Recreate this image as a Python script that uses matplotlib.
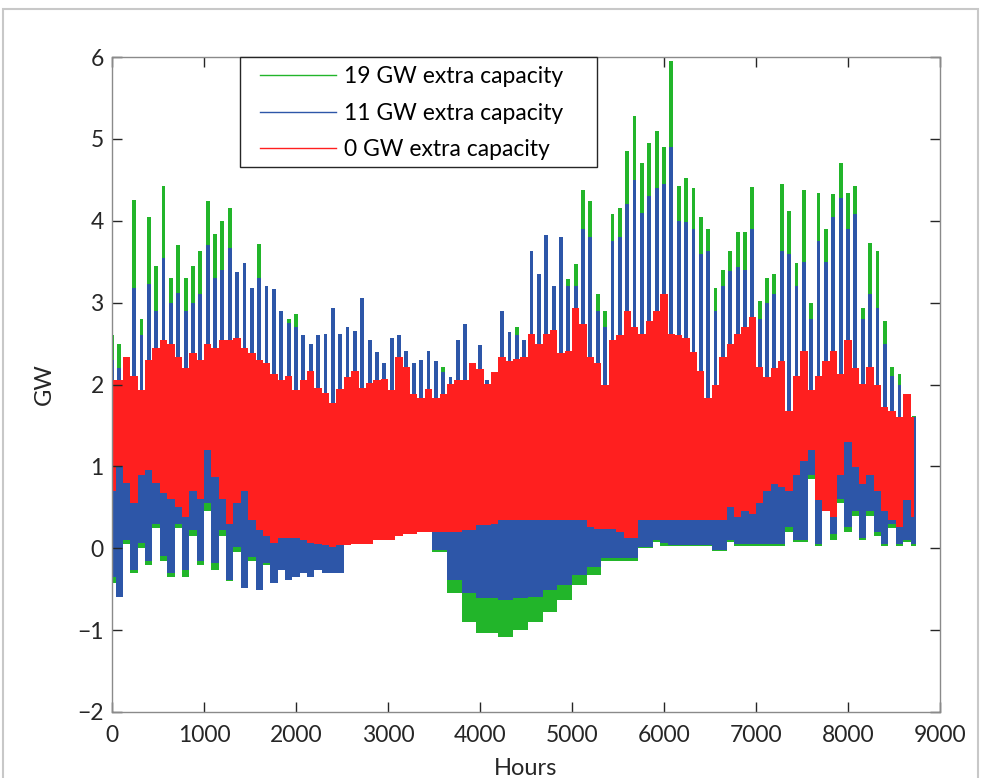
import numpy as np
import matplotlib
matplotlib.use('Agg')
import matplotlib.pyplot as plt
from matplotlib.lines import Line2D
from matplotlib.patches import Rectangle

plt.rcParams['font.family'] = ['Lato', 'DejaVu Sans']

# one peak and one trough for every 80-hour column
step_hours = 80
n_cols = 110

green_peak = [2.6, 2.5, 2.3, 4.25, 2.8, 4.05, 3.45, 4.43, 3.3, 3.7,
              3.3, 3.45, 3.63, 4.24, 3.84, 4.0, 4.16, 3.37, 3.49, 3.18,
              3.72, 3.2, 3.17, 2.9, 2.8, 2.86, 2.6, 2.5, 2.6, 2.62,
              2.94, 2.62, 2.7, 2.65, 3.06, 2.54, 2.4, 2.26, 2.57, 2.6,
              2.41, 2.26, 2.3, 2.41, 2.29, 2.21, 2.09, 2.54, 2.74, 2.26,
              2.48, 2.05, 1.96, 2.9, 2.64, 2.7, 2.54, 3.63, 3.35, 3.82,
              3.2, 3.8, 3.29, 3.47, 4.37, 4.24, 3.1, 2.9, 4.08, 4.15,
              4.85, 5.28, 4.7, 4.95, 5.1, 4.9, 5.95, 4.43, 4.52, 4.4,
              4.04, 3.9, 3.18, 3.4, 3.63, 3.86, 3.86, 4.41, 3.02, 3.3,
              3.35, 4.45, 4.12, 3.49, 4.37, 2.99, 4.34, 3.9, 4.33, 4.71,
              4.34, 4.43, 2.94, 3.73, 3.63, 2.78, 2.21, 2.13, 1.87, 1.62]
green_trough = [-0.43, -0.6, 0.05, -0.3, 0.0, -0.2, 0.25, -0.15, -0.35, 0.25,
                -0.35, 0.15, -0.2, 0.45, -0.27, 0.15, -0.4, -0.05, -0.48, -0.15,
                -0.5, -0.2, -0.43, -0.27, -0.39, -0.35, -0.3, -0.35, -0.27, -0.3,
                -0.3, -0.3, 0.06, 0.06, 0.06, 0.06, 0.1, 0.1, 0.12, 0.15,
                0.18, 0.2, 0.2, 0.2, -0.05, -0.05, -0.55, -0.55, -0.9, -0.9,
                -1.04, -1.04, -1.04, -1.08, -1.08, -1.0, -1.0, -0.9, -0.9, -0.78,
                -0.78, -0.63, -0.63, -0.45, -0.45, -0.33, -0.33, -0.15, -0.15, -0.15,
                -0.15, -0.15, 0.0, 0.0, 0.08, 0.03, 0.03, 0.03, 0.03, 0.03,
                0.03, 0.03, -0.03, -0.03, 0.08, 0.03, 0.03, 0.03, 0.03, 0.03,
                0.03, 0.03, 0.2, 0.08, 0.08, 0.85, 0.03, 0.5, 0.1, 0.55,
                0.2, 0.4, 0.1, 0.4, 0.15, 0.03, 0.25, 0.03, 0.08, 0.03]

blue_peak = [2.3, 2.2, 2.3, 3.18, 2.6, 3.23, 2.9, 3.54, 3.0, 3.12,
             2.9, 3.0, 3.1, 3.7, 3.3, 3.4, 3.67, 3.37, 3.49, 3.18,
             3.3, 3.2, 3.17, 2.9, 2.75, 2.7, 2.6, 2.5, 2.6, 2.62,
             2.94, 2.62, 2.7, 2.65, 3.06, 2.54, 2.4, 2.26, 2.57, 2.6,
             2.41, 2.26, 2.3, 2.41, 2.29, 2.15, 2.09, 2.54, 2.74, 2.26,
             2.48, 2.05, 1.96, 2.9, 2.64, 2.6, 2.54, 3.63, 3.35, 3.82,
             3.2, 3.8, 3.2, 3.2, 3.9, 3.8, 2.9, 2.7, 3.75, 3.8,
             4.2, 4.5, 4.1, 4.3, 4.4, 4.45, 4.9, 4.0, 3.98, 3.9,
             3.6, 3.63, 2.9, 3.2, 3.39, 3.43, 3.4, 3.9, 2.8, 3.0,
             3.1, 3.63, 3.6, 3.2, 3.5, 2.8, 3.75, 3.5, 4.04, 4.28,
             3.9, 4.08, 2.8, 3.1, 2.94, 2.5, 2.1, 2.0, 1.85, 1.6]
blue_trough = [-0.35, -0.6, 0.1, -0.27, 0.06, -0.15, 0.3, -0.1, -0.3, 0.3,
               -0.27, 0.22, -0.15, 0.55, -0.18, 0.22, -0.39, 0.01, -0.48, -0.11,
               -0.51, -0.18, -0.43, -0.27, -0.39, -0.35, -0.3, -0.35, -0.27, -0.3,
               -0.3, -0.3, 0.06, 0.06, 0.06, 0.06, 0.1, 0.1, 0.12, 0.15,
               0.18, 0.2, 0.2, 0.2, -0.02, -0.02, -0.39, -0.39, -0.55, -0.55,
               -0.61, -0.61, -0.61, -0.63, -0.63, -0.61, -0.61, -0.59, -0.59, -0.51,
               -0.51, -0.45, -0.45, -0.33, -0.33, -0.23, -0.23, -0.12, -0.12, -0.12,
               -0.12, -0.12, 0.01, 0.01, 0.1, 0.06, 0.04, 0.04, 0.04, 0.04,
               0.04, 0.04, -0.02, -0.02, 0.1, 0.05, 0.05, 0.05, 0.05, 0.05,
               0.05, 0.05, 0.26, 0.1, 0.1, 0.9, 0.05, 0.6, 0.18, 0.6,
               0.26, 0.46, 0.13, 0.46, 0.2, 0.05, 0.3, 0.05, 0.1, 0.05]

red_peak = [2.05, 2.05, 2.33, 2.1, 1.93, 2.3, 2.45, 2.54, 2.5, 2.33,
            2.2, 2.38, 2.3, 2.5, 2.45, 2.54, 2.54, 2.57, 2.45, 2.38,
            2.3, 2.26, 2.13, 2.05, 2.1, 1.93, 2.05, 2.17, 1.96, 1.9,
            1.77, 1.95, 2.09, 2.17, 1.96, 2.02, 2.05, 2.07, 1.93, 2.33,
            2.21, 1.89, 1.84, 1.95, 1.84, 1.89, 2.01, 2.05, 2.05, 2.26,
            2.19, 2.01, 2.15, 2.33, 2.29, 2.31, 2.33, 2.62, 2.5, 2.62,
            2.66, 2.38, 2.41, 2.94, 2.74, 2.33, 2.26, 2.0, 2.54, 2.6,
            2.9, 2.7, 2.62, 2.78, 2.9, 3.1, 2.62, 2.6, 2.57, 2.4,
            2.17, 1.84, 2.0, 2.33, 2.5, 2.62, 2.7, 2.82, 2.21, 2.09,
            2.2, 2.29, 1.68, 2.1, 2.41, 1.93, 2.1, 2.29, 2.41, 2.13,
            2.54, 2.2, 2.01, 2.21, 2.0, 1.72, 1.68, 1.6, 1.89, 1.6]
red_trough = [0.7, 1.0, 0.8, 0.55, 0.9, 0.95, 0.8, 0.67, 0.6, 0.5,
              0.38, 0.7, 0.6, 1.2, 0.87, 0.6, 0.3, 0.55, 0.7, 0.35,
              0.22, 0.15, 0.06, 0.13, 0.13, 0.13, 0.1, 0.06, 0.05, 0.04,
              0.02, 0.04, 0.04, 0.05, 0.05, 0.05, 0.1, 0.1, 0.1, 0.15,
              0.18, 0.18, 0.2, 0.2, 0.2, 0.2, 0.2, 0.2, 0.22, 0.22,
              0.28, 0.28, 0.3, 0.34, 0.34, 0.34, 0.34, 0.34, 0.34, 0.34,
              0.34, 0.34, 0.34, 0.34, 0.34, 0.26, 0.24, 0.24, 0.24, 0.2,
              0.13, 0.13, 0.34, 0.34, 0.34, 0.34, 0.34, 0.34, 0.34, 0.34,
              0.34, 0.34, 0.34, 0.34, 0.5, 0.38, 0.45, 0.42, 0.55, 0.7,
              0.79, 0.75, 0.7, 0.9, 1.07, 1.2, 0.59, 0.45, 0.38, 0.9,
              1.3, 0.99, 0.79, 0.9, 0.7, 0.46, 0.35, 0.26, 0.59, 0.38]

labels = ['19 GW extra capacity', '11 GW extra capacity', '0 GW extra capacity']
colours = ['#22b52a', '#2d56a8', '#ff1f1f']

hours = np.arange(n_cols) * step_hours

fig = plt.figure(figsize=(9.81, 7.78), dpi=100)
ax = fig.add_axes([112 / 981, 1 - 712 / 778, 828 / 981, 655 / 778])

# green and blue: thin spikes from trough to peak, solid where they run below the red band
for pk, tr, c in [(green_peak, green_trough, colours[0]),
                  (blue_peak, blue_trough, colours[1])]:
    pk = np.array(pk)
    tr = np.array(tr)
    ax.bar(hours, pk - tr, bottom=tr, width=42, color=c, linewidth=0)
    ax.fill_between(hours, tr, red_trough, step='mid', color=c, linewidth=0)

# red: solid band between trough and peak
ax.fill_between(hours, red_trough, red_peak, step='mid', color=colours[2], linewidth=0)

ax.set_xlim(0, 9000)
ax.set_ylim(-2, 6)
ax.set_xticks(range(0, 9001, 1000))
ax.set_yticks(range(-2, 7))
ax.tick_params(direction='in', length=7, width=1, top=True, right=True,
               labelsize=16.5, colors='#262626', pad=6)
ax.tick_params(axis='x', pad=9)
for s in ax.spines.values():
    s.set_color('#8a8a8a')
    s.set_linewidth(1)
ax.set_xlabel('Hours', fontsize=17, color='#262626', labelpad=9)
ax.set_ylabel('GW', fontsize=17, color='#262626', labelpad=16)

# legend box drawn as its own rectangle, entries placed inside it
ax.add_patch(Rectangle((128 / 828, 1 - 110 / 655), 357 / 828, 110 / 655,
                       transform=ax.transAxes, facecolor='white',
                       edgecolor='#262626', linewidth=1, zorder=4, clip_on=False))
handles = [Line2D([0], [0], color=c, linewidth=1.0) for c in colours]
leg = ax.legend(handles, labels, loc='upper left', bbox_to_anchor=(139 / 828, 1.0),
                borderaxespad=0, fontsize=16.5, handlelength=3.3, handletextpad=0.35,
                labelspacing=0.68, borderpad=0.4, frameon=False)
leg.set_zorder(5)

# light frame round the whole picture
fig.patches.append(Rectangle((3 / 981, -0.01), 975 / 981, 1 - 9 / 778 + 0.01,
                             transform=fig.transFigure, fill=False,
                             edgecolor='#c8c8c8', linewidth=1.5))

fig.savefig('out.png', dpi=100)
